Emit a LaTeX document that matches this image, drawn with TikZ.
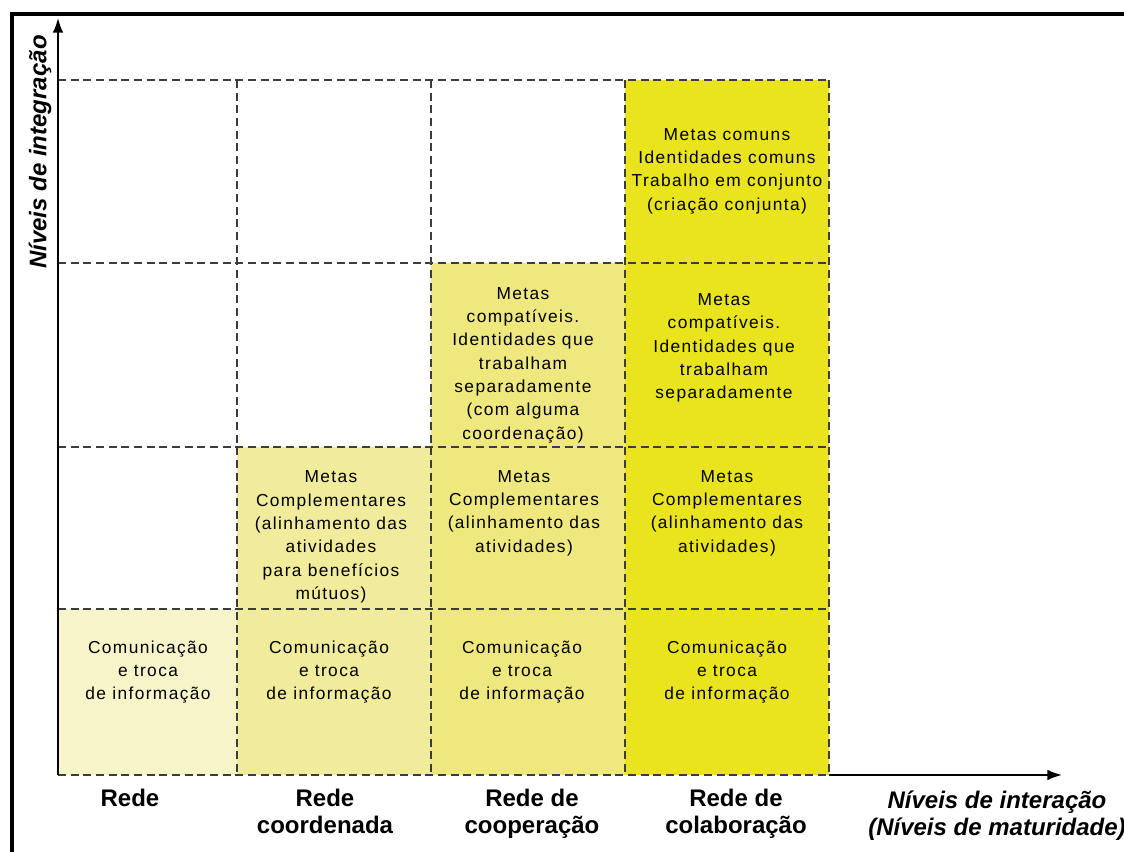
\documentclass[tikz,border=0pt]{standalone}
\usepackage{fontspec}
\setmainfont{Liberation Sans}
\newfontfamily\cellfont[LetterSpace=8]{Liberation Sans}
\usetikzlibrary{arrows.meta}
\definecolor{nivelA}{RGB}{247,244,202}
\definecolor{nivelB}{RGB}{241,236,156}
\definecolor{nivelC}{RGB}{238,232,126}
\definecolor{nivelD}{RGB}{233,228,30}
\definecolor{traco}{RGB}{60,60,60}
\begin{document}
\begin{tikzpicture}[x=0.75pt,y=-0.75pt,
	grade/.style={traco,line width=1.3pt,dash pattern=on 6pt off 3.5pt},
	eixo/.style={black,line width=1.4pt,-{Latex[length=11pt,width=8pt]}},
	celula/.style={align=center,inner sep=0pt,font=\cellfont\fontsize{13}{17.5}\selectfont},
	rotulo/.style={align=center,inner sep=0pt,anchor=north,font=\bfseries\fontsize{18}{20}\selectfont}]
	\useasboundingbox (0,0) rectangle (1124,852);
	% moldura
	\draw [black,line width=2.4pt] (12,852) -- (12,14) -- (1124,14);
	% areas coloridas
	\fill [nivelA] (58,609) rectangle (237,775);
	\fill [nivelB] (237,447) rectangle (431,775);
	\fill [nivelC] (431,263) rectangle (625,775);
	\fill [nivelD] (625,80) rectangle (829,775);
	% grade
	\foreach \x in {237,431,625,829}
		\draw [grade] (\x,80) -- (\x,775);
	\foreach \y in {80,263,447,609,775}
		\draw [grade] (58,\y) -- (829,\y);
	% eixos
	\coordinate (origem) at (58,775);
	\coordinate (ytopo) at (58,18);
	\coordinate (xini) at (829,775);
	\coordinate (xfim) at (1062,775);
	\draw [eixo] (origem) -- (ytopo);
	\draw [eixo] (xini) -- (xfim);
	% textos das celulas
	\node [celula] (rede1) at (148,672) {Comunicação\\e troca\\de informação};
	\node [celula] (coord1) at (329,672) {Comunicação\\e troca\\de informação};
	\node [celula] (coord2) at (331,537) {Metas\\Complementares\\(alinhamento das\\atividades\\para benefícios\\mútuos)};
	\node [celula] (coop1) at (522,672) {Comunicação\\e troca\\de informação};
	\node [celula] (coop2) at (524,513) {Metas\\Complementares\\(alinhamento das\\atividades)};
	\node [celula] (coop3) at (523,365) {Metas\\compatíveis.\\Identidades que\\trabalham\\separadamente\\(com alguma\\coordenação)};
	\node [celula] (colab1) at (727,672) {Comunicação\\e troca\\de informação};
	\node [celula] (colab2) at (727,513) {Metas\\Complementares\\(alinhamento das\\atividades)};
	\node [celula] (colab3) at (724,348) {Metas\\compatíveis.\\Identidades que\\trabalham\\separadamente};
	\node [celula] (colab4) at (727,171) {Metas comuns\\Identidades comuns\\Trabalho em conjunto\\(criação conjunta)};
	% rotulos dos eixos
	\node [rotulo] (tipo1) at (130,789) {Rede};
	\node [rotulo] (tipo2) at (325,789) {Rede\\coordenada};
	\node [rotulo] (tipo3) at (532,789) {Rede de\\cooperação};
	\node [rotulo] (tipo4) at (736,789) {Rede de\\colaboração};
	\node [rotulo,font=\bfseries\itshape\fontsize{18}{20}\selectfont] (interacao) at (997,791) {Níveis de interação\\(Níveis de maturidade)};
	\node [rotulo,anchor=center,rotate=90,font=\bfseries\itshape\fontsize{18}{20}\selectfont] (integracao) at (40,152) {Níveis de integração};
\end{tikzpicture}
\end{document}
